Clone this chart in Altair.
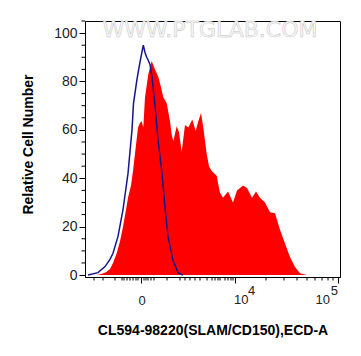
import altair as alt
import pandas as pd

# Red histogram (sample), x in display channel units, y relative cell number
red_x = [12, 17, 21, 25, 28, 31.7, 35, 38, 41, 43, 46, 48, 50.5, 53, 55, 56.7, 58.3, 60, 63.3, 66.7,
         70, 73.3, 76, 78.3, 81.7, 85, 86.7, 88.3, 91.7, 94, 96.7, 100, 103.3, 107.3, 110.7, 113.3,
         116, 118.3, 121.7, 124, 126.7, 131.7, 133, 135, 138, 143, 148, 152, 158, 162, 167, 171,
         175, 180, 185, 190, 195, 200, 205, 210, 215, 222]
red_y = [0, 0.5, 1.2, 2.5, 5, 9, 14, 20, 27, 32, 37, 43, 52, 61, 63, 63.6, 61, 73.5, 83, 88.5,
         85, 82, 77.6, 73.5, 71, 63.6, 58, 55.3, 61.5, 59, 51, 62, 61, 64.3, 59.5, 63.6,
         67, 61, 50, 45, 43, 41, 38, 34, 32, 34.5, 30, 35, 37, 36, 32, 34.5,
         32, 30, 26, 25.5, 18.7, 13, 7.5, 3.3, 0.8, 0]

# Blue outline (control)
blue_x = [3, 13, 20, 25, 28, 33, 38, 43, 47, 48.5, 52, 55, 58.3, 60, 61.7, 63, 65, 67, 70, 73,
          77, 80, 83, 88, 93, 98]
blue_y = [0, 1, 3.5, 6.5, 9, 16, 27, 42, 60, 71, 81, 88, 95, 92, 90, 89, 87, 82, 70, 56,
          42, 28, 16, 6, 1, 0]

# Axis ticks
x_major = [56, 150, 253]
x_minor = [9, 18, 30, 37, 39, 42, 45, 48, 51, 53, 59, 61, 63, 66, 69, 82, 95, 100, 105, 110, 115,
           122, 127, 130, 133, 135, 140, 143, 146, 148, 181, 199, 212, 222, 230, 237, 243, 248]
y_major = [0, 20, 40, 60, 80, 100]
y_minor = [5, 10, 15, 25, 30, 35, 45, 50, 55, 65, 70, 75, 85, 90, 95, 105]

FONT = "Liberation Sans"
xs = alt.Scale(domain=[0, 255], nice=False, zero=False)
ys = alt.Scale(domain=[-0.8, 105], nice=False, zero=False)

red_df = pd.DataFrame({"ch": red_x, "v": red_y})
blue_df = pd.DataFrame({"ch": blue_x, "v": blue_y})

XAX = alt.Axis(values=x_major, labels=False, tickSize=6, tickColor="black",
               domainColor="black", grid=False,
               title="CL594-98220(SLAM/CD150),ECD-A", titleFont=FONT,
               titleFontSize=14, titleFontWeight="bold", titleColor="black",
               titleY=57, titleBaseline="alphabetic")
YAX = alt.Axis(values=y_major, tickSize=6, tickColor="black", domainColor="black",
               grid=False, labelFont=FONT, labelFontSize=14, labelColor="#222222",
               labelPadding=2,
               title="Relative Cell Number", titleFont=FONT, titleFontSize=14,
               titleFontWeight="bold", titleColor="black",
               titleX=-50, titleY=123)

area = alt.Chart(red_df).mark_area(color="#ff0000", opacity=1, interpolate="linear").encode(
    x=alt.X("ch:Q", scale=xs, axis=XAX),
    y=alt.Y("v:Q", scale=ys, axis=YAX),
    y2=alt.datum(0),
)

line = alt.Chart(blue_df).mark_line(color="#16168a", strokeWidth=1.5).encode(
    x=alt.X("ch:Q", scale=xs, axis=XAX),
    y=alt.Y("v:Q", scale=ys, axis=YAX),
)

ymin = alt.Chart(pd.DataFrame({"v": y_minor})).mark_rule(color="black", strokeWidth=1).encode(
    y=alt.Y("v:Q", scale=ys, axis=YAX),
    x=alt.value(-3.5), x2=alt.value(0),
)

xmin = alt.Chart(pd.DataFrame({"ch": x_minor})).mark_rule(color="black", strokeWidth=1).encode(
    x=alt.X("ch:Q", scale=xs, axis=XAX),
    y=alt.value(256), y2=alt.value(259.5),
)


def lbl(val, text, dx, y, align):
    return alt.Chart(pd.DataFrame({"ch": [val], "t": [text]})).mark_text(
        align=align, baseline="middle", dx=dx, font=FONT, fontSize=13, color="#222222"
    ).encode(x=alt.X("ch:Q", scale=xs, axis=XAX), y=alt.value(y), text="t:N")


labels = [
    lbl(x_major[0], "0", 1, 280, "center"),
    lbl(x_major[1], "10", -1, 279, "left"),
    lbl(x_major[1], "4", 13, 270, "left"),
    lbl(x_major[2], "10", -8, 279, "right"),
    lbl(x_major[2], "5", 0, 270, "right"),
]

watermark = alt.Chart(pd.DataFrame({"t": ["WWW.PTGLAB.COM"]})).mark_text(
    font="DejaVu Sans", fontSize=22, fill="#f7f7f7", stroke="#c4c4c4", strokeWidth=0.5,
    align="center", baseline="middle"
).encode(x=alt.value(125), y=alt.value(9), text="t:N")

chart = alt.layer(area, line, ymin, xmin, *labels, watermark).properties(
    width=255, height=256,
    autosize=alt.AutoSizeParams(type="none"),
    padding={"left": 85, "top": 21, "right": 21, "bottom": 79},
    background="white",
).configure_view(stroke="black", strokeWidth=1)

chart.save("out.html", embed_options={"renderer": "svg", "actions": False})
